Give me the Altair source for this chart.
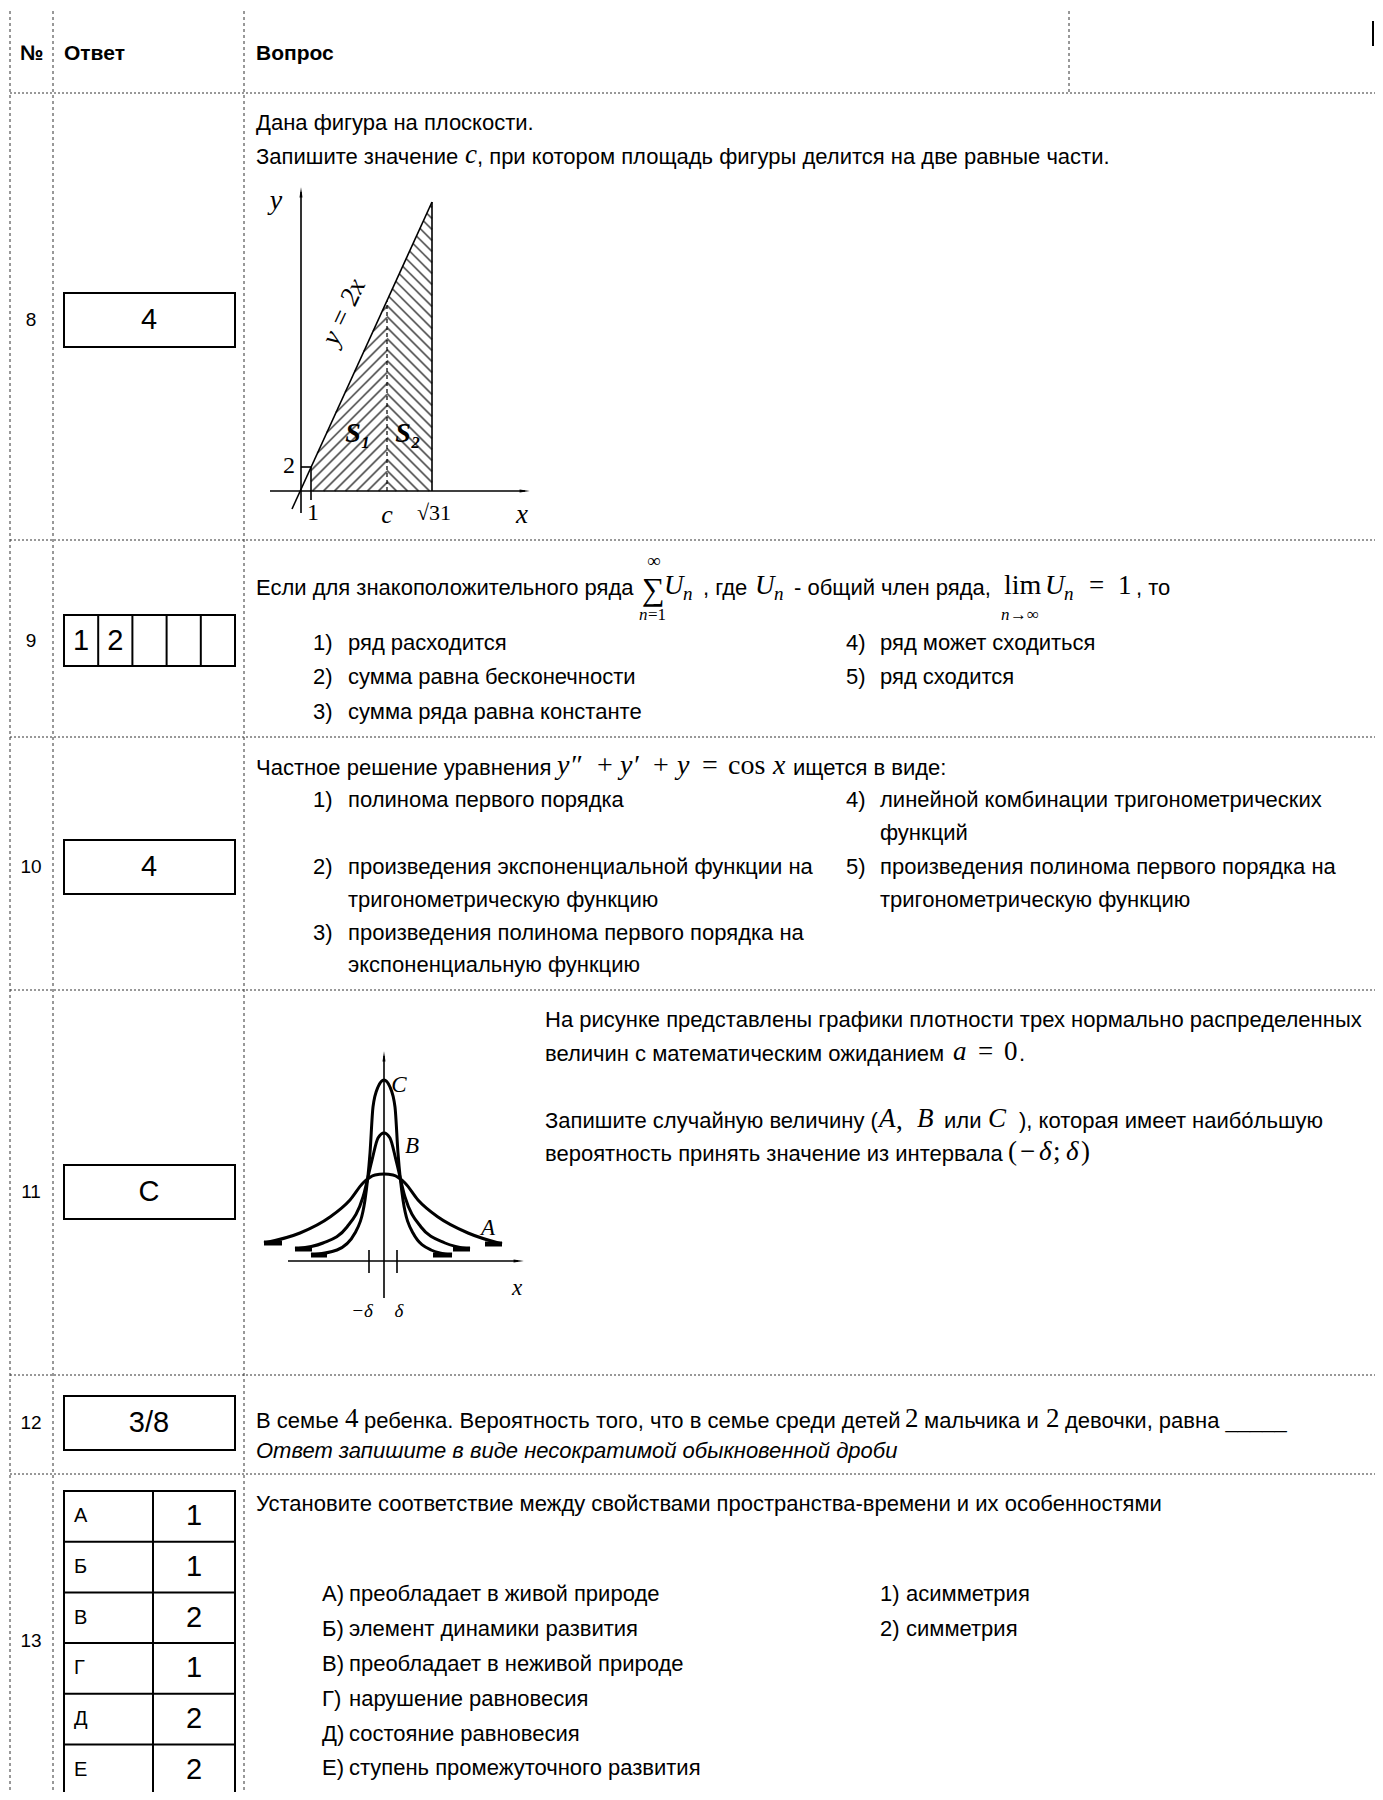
import altair as alt
import pandas as pd

# ------------------------------------------------------------------
# Content (text) of the answer sheet
# ------------------------------------------------------------------
HEADER = ["№", "Ответ", "Вопрос"]
ROW_NUMBERS = ["8", "9", "10", "11", "12", "13"]
ANSWERS = ["4", "4", "C", "3/8"]            # answers of rows 8, 10, 11, 12
ANSWER_9 = ["1", "2", "", "", ""]           # five cells of row 9
MATCH_LETTERS = ["А", "Б", "В", "Г", "Д", "Е"]
MATCH_VALUES = ["1", "1", "2", "1", "2", "2"]

Q8_LINES = ["Дана фигура на плоскости.", "Запишите значение",
            ", при котором площадь фигуры делится на две равные части."]
Q9_PARTS = ["Если для знакоположительного ряда", ", где", "- общий член ряда,", ", то"]
Q9_OPTIONS = ["ряд расходится", "сумма равна бесконечности", "сумма ряда равна константе",
              "ряд может сходиться", "ряд сходится"]
Q10_PARTS = ["Частное решение уравнения", "ищется в виде:"]
Q10_OPTIONS = ["полинома первого порядка",
               "произведения экспоненциальной функции на", "тригонометрическую функцию",
               "произведения полинома первого порядка на", "экспоненциальную функцию",
               "линейной комбинации тригонометрических", "функций",
               "произведения полинома первого порядка на", "тригонометрическую функцию"]
Q11_LINES = ["На рисунке представлены графики плотности трех нормально распределенных",
             "величин с математическим ожиданием", ".",
             "Запишите случайную величину (", "или", "), которая имеет наибо\u0301льшую",
             "вероятность принять значение из интервала"]
Q12_PARTS = ["В семье", "ребенка. Вероятность того, что в семье среди детей",
             "мальчика и", "девочки, равна _____"]
Q12_NOTE = "Ответ запишите в виде несократимой обыкновенной дроби"
Q13_TITLE = "Установите соответствие между свойствами пространства-времени и их особенностями"
Q13_LEFT = ["преобладает в живой природе", "элемент динамики развития",
            "преобладает в неживой природе", "нарушение равновесия",
            "состояние равновесия", "ступень промежуточного развития"]
Q13_RIGHT = ["асимметрия", "симметрия"]

# Normal-density curves of question 11 (page pixels)
CURVE_A_X = [264, 300, 330, 350, 363, 375, 384, 393, 405, 418, 438, 468, 502]
CURVE_A_Y = [1243, 1233, 1217, 1200, 1183, 1175, 1174, 1175, 1183, 1200, 1217, 1233, 1244]
CURVE_B_X = [295, 323, 347, 363, 372, 378, 384, 390, 396, 405, 421, 445, 470]
CURVE_B_Y = [1249, 1243, 1227, 1197, 1160, 1138, 1133, 1138, 1160, 1197, 1227, 1243, 1249]
CURVE_C_X = [311, 337, 355, 365, 370, 373, 378, 384, 390, 395, 398, 403, 413, 431, 452]
CURVE_C_Y = [1255, 1250, 1233, 1200, 1153, 1107, 1087, 1080, 1087, 1107, 1153, 1200, 1233, 1250, 1255]

# ------------------------------------------------------------------
# Scales: one page coordinate system (pixels of the page)
# ------------------------------------------------------------------
W, H = 1367, 1784
XS = alt.Scale(domain=[8, 8 + W], nice=False, zero=False)
YS = alt.Scale(domain=[8, 8 + H], nice=False, zero=False, reverse=True)


def enc_xy(extra=None):
    d = dict(x=alt.X("x:Q", scale=XS, axis=None), y=alt.Y("y:Q", scale=YS, axis=None))
    if extra:
        d.update(extra)
    return d


def texts(rows, font="Liberation Sans", style="normal", weight="normal", align="left",
          color="black", angle=None):
    df = pd.DataFrame(rows, columns=["text", "x", "y", "size"])
    kw = dict(font=font, fontStyle=style, fontWeight=weight, align=align,
              baseline="middle", color=color)
    if angle is not None:
        kw["angle"] = angle
    return alt.Chart(df).mark_text(**kw).encode(
        **enc_xy(dict(text="text:N", size=alt.Size("size:Q", scale=None, legend=None))))


def rules(rows, color="black", width=1.0, dash=None, cap="butt"):
    df = pd.DataFrame(rows, columns=["x", "y", "x2", "y2"])
    kw = dict(color=color, strokeWidth=width, strokeCap=cap)
    if dash:
        kw["strokeDash"] = dash
    return alt.Chart(df).mark_rule(**kw).encode(
        **enc_xy(dict(x2="x2:Q", y2="y2:Q")))


def boxes(rows, width=2):
    df = pd.DataFrame(rows, columns=["x", "y", "x2", "y2"])
    return alt.Chart(df).mark_rect(fill="white", stroke="black", strokeWidth=width).encode(
        **enc_xy(dict(x2="x2:Q", y2="y2:Q")))


def hatch(poly, slope, step):
    ks = [py - slope * px for px, py in poly]
    out = []
    k = min(ks) + step / 2
    while k < max(ks):
        pts = []
        for i in range(len(poly)):
            (x1, y1), (x2, y2) = poly[i], poly[(i + 1) % len(poly)]
            f1, f2 = y1 - slope * x1 - k, y2 - slope * x2 - k
            if f1 != f2 and min(f1, f2) <= 0 <= max(f1, f2):
                t = f1 / (f1 - f2)
                pts.append((x1 + t * (x2 - x1), y1 + t * (y2 - y1)))
        if len(pts) >= 2:
            pts.sort()
            out.append((pts[0][0], pts[0][1], pts[-1][0], pts[-1][1]))
        k += step
    return out


layers = []

# ---------------- table grid ----------------
COL_X = [10, 53, 244]
ROW_LINES = [93, 540, 737, 990, 1375, 1474]
layers.append(rules([(x, 11, x, 1800) for x in COL_X] + [(1069, 11, 1069, 93)],
                    color="#333", width=1, dash=[3, 3]))
layers.append(rules([(10, y, 1383, y) for y in ROW_LINES], color="#333", width=1, dash=[2, 2]))
layers.append(rules([(1373, 21, 1373, 46)], color="black", width=2))

# ---------------- answer boxes ----------------
TABLE_TOP, ROW_H = 1491, 50.7
layers.append(boxes([(64, 293, 235, 347), (64, 615, 235, 666), (64, 840, 235, 894),
                     (64, 1165, 235, 1219), (64, 1396, 235, 1450),
                     (64, TABLE_TOP, 235, TABLE_TOP + 6 * ROW_H)]))
cell_w = (235 - 64) / 5
table_lines = [(64 + cell_w * i, 615, 64 + cell_w * i, 666) for i in range(1, 5)]
table_lines += [(153, TABLE_TOP, 153, TABLE_TOP + 6 * ROW_H)]
table_lines += [(64, TABLE_TOP + ROW_H * i, 235, TABLE_TOP + ROW_H * i) for i in range(1, 6)]
layers.append(rules(table_lines, width=2))

# ---------------- header ----------------
layers.append(texts([(HEADER[0], 20, 54, 21), (HEADER[1], 64, 54, 21), (HEADER[2], 256, 54, 21)],
                    weight="bold"))

# ---------------- row numbers & answers ----------------
ROW_Y = [320, 641, 867, 1192, 1423, 1641]
center_rows = [(n, 31, y, 19) for n, y in zip(ROW_NUMBERS, ROW_Y)]
center_rows += [(ANSWERS[0], 149, 320, 29), (ANSWERS[1], 149, 867, 29),
                (ANSWERS[2], 149, 1192, 29), (ANSWERS[3], 149, 1423, 29)]
center_rows += [(d, 64 + cell_w * (i + 0.5), 641, 29) for i, d in enumerate(ANSWER_9) if d]
center_rows += [(v, 194, TABLE_TOP + ROW_H * (i + 0.5), 29) for i, v in enumerate(MATCH_VALUES)]
layers.append(texts(center_rows, align="center"))

# ---------------- question texts (sans) ----------------
S = 22
sans = [
    (Q8_LINES[0], 256, 123, S), (Q8_LINES[1], 256, 157, S), (Q8_LINES[2], 477, 157, S),
    (Q9_PARTS[0], 256, 588, S), (Q9_PARTS[1], 703, 588, S), (Q9_PARTS[2], 794, 588, S),
    (Q9_PARTS[3], 1136, 588, S),
    (Q10_PARTS[0], 256, 768, S), (Q10_PARTS[1], 793, 768, S),
    (Q11_LINES[0], 545, 1020, S), (Q11_LINES[1], 545, 1054, S), (Q11_LINES[2], 1019, 1054, S),
    (Q11_LINES[3], 545, 1121, S), (Q11_LINES[4], 944, 1121, S), (Q11_LINES[5], 1019, 1121, S),
    (Q11_LINES[6], 545, 1154, S),
    (Q12_PARTS[0], 256, 1421, S), (Q12_PARTS[1], 364, 1421, S), (Q12_PARTS[2], 924, 1421, S),
    (Q12_PARTS[3], 1065, 1421, S),
    (Q13_TITLE, 256, 1504, S),
]
# options of question 9
q9_pos = [(313, 348, 643), (313, 348, 677), (313, 348, 712), (846, 880, 643), (846, 880, 677)]
for i, (opt, (xn, xt, y)) in enumerate(zip(Q9_OPTIONS, q9_pos)):
    sans += [(f"{i + 1})", xn, y, S), (opt, xt, y, S)]
# options of question 10
q10_num = [("1)", 313, 800), ("2)", 313, 867), ("3)", 313, 933), ("4)", 846, 800), ("5)", 846, 867)]
sans += [(t, x, y, S) for t, x, y in q10_num]
q10_pos = [(348, 800), (348, 867), (348, 900), (348, 933), (348, 965),
           (880, 800), (880, 833), (880, 867), (880, 900)]
sans += [(t, x, y, S) for t, (x, y) in zip(Q10_OPTIONS, q10_pos)]
# matching of question 13
q13_y = [1594, 1629, 1664, 1699, 1734, 1768]
for letter, txt, y in zip(MATCH_LETTERS, Q13_LEFT, q13_y):
    sans += [(letter + ")", 322, y, S), (txt, 349, y, S)]
for i, (txt, y) in enumerate(zip(Q13_RIGHT, q13_y)):
    sans += [(f"{i + 1})", 880, y, S), (txt, 906, y, S)]
sans += [(l, 74, TABLE_TOP + ROW_H * (i + 0.5), 20) for i, l in enumerate(MATCH_LETTERS)]
layers.append(texts(sans))
layers.append(texts([(Q12_NOTE, 256, 1451, S)], style="italic"))

# ---------------- inline math (serif) ----------------
M = 27
math_it = [
    ("c", 465, 155, M),
    ("U", 664, 586, M), ("n", 683, 594, 19), ("U", 755, 586, M), ("n", 774, 594, 19),
    ("U", 1045, 586, M), ("n", 1064, 594, 19), ("n", 639, 615, 17), ("n", 1001, 615, 17),
    ("y″", 557, 766, 28), ("y′", 620, 766, 28), ("y", 677, 766, 28), ("x", 773, 766, 28),
    ("a", 953, 1052, M), ("A", 879, 1119, M), ("B", 917, 1119, M), ("C", 988, 1119, M),
    ("δ", 1039, 1152, M), ("δ", 1066, 1152, M),
]
math_up = [
    ("∑", 642, 590, 32), ("∞", 647, 561, 19), ("=1", 648, 615, 17),
    ("lim", 1004, 586, 28), ("→∞", 1010, 615, 17), ("=", 1089, 586, M), ("1", 1118, 586, M),
    ("+", 597, 766, 28), ("+", 653, 766, 28), ("=", 702, 766, 28), ("cos", 728, 766, 28),
    ("=", 978, 1052, M), ("0", 1004, 1052, M), (",", 896, 1121, M),
    ("(", 1008, 1152, M), ("−", 1020, 1152, M), (";", 1053, 1152, M), (")", 1081, 1152, M),
    ("4", 345, 1419, M), ("2", 905, 1419, M), ("2", 1046, 1419, M),
]
layers.append(texts(math_it, font="Liberation Serif", style="italic"))
layers.append(texts(math_up, font="Liberation Serif"))

# ---------------- figure of question 8 ----------------
S1 = [(311, 491), (387, 491), (387, 301), (311, 467)]
S2 = [(387, 491), (432, 491), (432, 202), (387, 301)]
layers.append(rules(hatch(S1, -1.0, 11) + hatch(S2, 1.0, 11), color="#666", width=1.8))
layers.append(rules([(301, 513, 301, 192), (270, 491, 525, 491), (292, 509, 432, 202),
                     (432, 491, 432, 202), (301, 467, 311, 467), (311, 467, 311, 500)],
                    width=1.6))
layers.append(rules([(387, 491, 387, 301)], width=1.2, dash=[4, 3]))
layers.append(texts([("y", 276, 201, 28), ("x", 522, 515, 27), ("c", 387, 515, 26)],
                    font="Liberation Serif", style="italic", align="center"))
layers.append(texts([("S₁", 358, 434, 28), ("S₂", 408, 434, 28)],
                    font="Liberation Serif", style="italic", weight="bold", align="center"))
layers.append(texts([("2", 289, 466, 24), ("1", 313, 513, 24), ("√31", 434, 513, 22)],
                    font="Liberation Serif", align="center"))
layers.append(texts([("y = 2x", 344, 312, 27)], font="Liberation Serif", style="italic",
                    align="center", angle=295))

# ---------------- figure of question 11 ----------------
curves = pd.DataFrame(
    [("A", i, x, y) for i, (x, y) in enumerate(zip(CURVE_A_X, CURVE_A_Y))]
    + [("B", i, x, y) for i, (x, y) in enumerate(zip(CURVE_B_X, CURVE_B_Y))]
    + [("C", i, x, y) for i, (x, y) in enumerate(zip(CURVE_C_X, CURVE_C_Y))],
    columns=["curve", "i", "x", "y"])
layers.append(alt.Chart(curves).mark_line(color="black", strokeWidth=3, interpolate="monotone")
              .encode(**enc_xy(dict(detail="curve:N", order="i:Q"))))
layers.append(rules([(264, 1243, 282, 1243), (485, 1244, 502, 1244), (295, 1249, 312, 1249),
                     (453, 1249, 470, 1249), (311, 1255, 327, 1255), (433, 1255, 452, 1255)],
                    width=5))
layers.append(rules([(384, 1298, 384, 1056), (288, 1261, 518, 1261),
                     (369, 1250, 369, 1273), (397, 1250, 397, 1273)], width=1.6))
layers.append(texts([("C", 399, 1085, 23), ("B", 412, 1146, 23), ("A", 488, 1228, 23),
                     ("x", 517, 1288, 23), ("−δ", 362, 1311, 19), ("δ", 399, 1311, 19)],
                    font="Liberation Serif", style="italic", align="center"))

# ---------------- arrow heads ----------------
arrows = pd.DataFrame({"x": [301, 523, 384, 517], "y": [194, 491, 1058, 1261],
                       "angle": [0, 90, 0, 90]})
layers.append(alt.Chart(arrows).mark_point(shape="wedge", filled=True, size=140, color="black",
                                           opacity=1)
              .encode(**enc_xy(dict(angle=alt.Angle("angle:Q", scale=None)))))

chart = alt.layer(*layers).properties(
    width=W, height=H, padding=0, autosize=alt.AutoSizeParams(type="none")
).configure_view(stroke=None)

chart.save("out.html", embed_options={"renderer": "svg", "actions": False})
